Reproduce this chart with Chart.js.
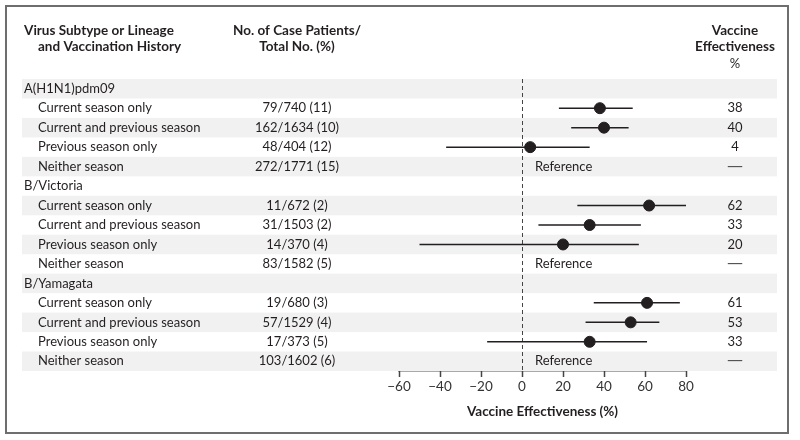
<!DOCTYPE html>
<html>
<head>
<meta charset="utf-8">
<script src="https://cdn.jsdelivr.net/npm/chart.js@4.4.1/dist/chart.umd.min.js"></script>
<style>
  body { margin: 0; background: #fff; }
</style>
</head>
<body>
<canvas id="forest" width="800" height="440"></canvas>
<script>
// --- data ---
const groups = ['A(H1N1)pdm09', 'B/Victoria', 'B/Yamagata'];
const histories = ['Current season only', 'Current and previous season', 'Previous season only', 'Neither season'];
const caseCounts = [
    ['79/740 (11)', '162/1634 (10)', '48/404 (12)', '272/1771 (15)'],
    ['11/672 (2)', '31/1503 (2)', '14/370 (4)', '83/1582 (5)'],
    ['19/680 (3)', '57/1529 (4)', '17/373 (5)', '103/1602 (6)']
];
const effectiveness = [[38, 40, 4, null], [62, 33, 20, null], [61, 53, 33, null]];
const ciLow = [[18, 24, -37, null], [27, 8, -50, null], [35, 31, -17, null]];
const ciHigh = [[54, 52, 33, null], [80, 58, 57, null], [77, 67, 61, null]];
const xTicks = [-60, -40, -20, 0, 20, 40, 60, 80];

const FONT = 'Lato, "Open Sans", sans-serif';
const INK = '#231f20';

// flatten into rows (group header row + 4 history rows)
const rows = [];
groups.forEach((g, gi) => {
    rows.push({ label: g, group: true });
    histories.forEach((h, hi) => {
        rows.push({
            label: h, group: false,
            cases: caseCounts[gi][hi],
            ve: effectiveness[gi][hi],
            lo: ciLow[gi][hi],
            hi: ciHigh[gi][hi]
        });
    });
});

const pointData = [];
const ciData = [];
rows.forEach((r, i) => {
    if (r.ve === null || r.ve === undefined) return;
    pointData.push({ x: r.ve, y: i });
    ciData.push({ x: r.lo, y: i }, { x: r.hi, y: i }, { x: null, y: null });
});

const tablePlugin = {
    id: 'tablePlugin',
    beforeDatasetsDraw(chart) {
        const { ctx, chartArea, scales: { x, y } } = chart;
        ctx.save();
        // zebra bands
        const h = Math.abs(y.getPixelForValue(1) - y.getPixelForValue(0));
        ctx.fillStyle = '#f1f1f1';
        rows.forEach((r, i) => {
            if (i % 2 !== 0) return;
            const cy = y.getPixelForValue(i);
            ctx.fillRect(22, cy - h / 2, 755, h);
        });
        // null line
        ctx.strokeStyle = '#444';
        ctx.lineWidth = 1;
        ctx.setLineDash([4, 3]);
        const x0 = Math.round(x.getPixelForValue(0)) + 0.5;
        ctx.beginPath();
        ctx.moveTo(x0, chartArea.top);
        ctx.lineTo(x0, chartArea.bottom);
        ctx.stroke();
        ctx.restore();
    },
    afterDraw(chart) {
        const { ctx, chartArea, scales: { x, y } } = chart;
        ctx.save();
        // frame
        ctx.strokeStyle = '#6e6e6e';
        ctx.lineWidth = 2;
        ctx.strokeRect(6, 6, 782, 427);

        // axis tick marks (downward)
        ctx.strokeStyle = '#444';
        ctx.lineWidth = 1.5;
        x.ticks.forEach(t => {
            const px = Math.round(x.getPixelForValue(t.value)) + 0.5;
            ctx.beginPath();
            ctx.moveTo(px, chartArea.bottom);
            ctx.lineTo(px, chartArea.bottom + 6);
            ctx.stroke();
        });

        ctx.fillStyle = INK;
        ctx.textBaseline = 'middle';
        // headers
        ctx.font = 'bold 13.5px ' + FONT;
        ctx.textAlign = 'left';
        ctx.fillText('Virus Subtype or Lineage', 24, 31);
        ctx.fillText('and Vaccination History', 38, 47);
        ctx.textAlign = 'center';
        ctx.fillText('No. of Case Patients/', 297, 31);
        ctx.fillText('Total No. (%)', 297, 47);
        ctx.fillText('Vaccine', 735, 31);
        ctx.fillText('Effectiveness', 735, 47);
        ctx.font = '13px ' + FONT;
        ctx.fillText('%', 735, 64);

        // rows
        rows.forEach((r, i) => {
            const cy = y.getPixelForValue(i);
            ctx.fillStyle = INK;
            ctx.font = '13px ' + FONT;
            if (r.group) {
                ctx.textAlign = 'left';
                ctx.fillText(r.label, 24, cy);
                return;
            }
            ctx.textAlign = 'left';
            ctx.fillText(r.label, 38, cy);
            ctx.textAlign = 'center';
            ctx.fillText(r.cases, 297, cy);
            if (r.ve === null) {
                ctx.textAlign = 'left';
                ctx.fillText('Reference', x.getPixelForValue(0) + 13, cy);
                ctx.textAlign = 'center';
                ctx.fillStyle = '#555';
                ctx.font = '16px "DejaVu Sans", sans-serif';
                ctx.fillText('\u2014', 735, cy);
            } else {
                ctx.fillText(String(r.ve), 735, cy);
            }
        });
        ctx.restore();
    }
};

new Chart(document.getElementById('forest'), {
    type: 'scatter',
    data: {
        datasets: [
            {
                type: 'line',
                data: ciData,
                borderColor: INK,
                borderWidth: 1.5,
                pointRadius: 0,
                spanGaps: false,
                fill: false
            },
            {
                data: pointData,
                backgroundColor: INK,
                borderColor: INK,
                pointRadius: 5.5,
                pointHoverRadius: 5.5
            }
        ]
    },
    options: {
        responsive: false,
        animation: false,
        layout: { padding: { left: 399, right: 114, top: 79, bottom: 0 } },
        plugins: { legend: { display: false }, tooltip: { enabled: false } },
        scales: {
            x: {
                type: 'linear',
                min: -60,
                max: 80,
                afterBuildTicks: (s) => { s.ticks = xTicks.map(v => ({ value: v })); },
                afterFit: (s) => { s.height = 69; },
                grid: { display: false, drawTicks: true, tickLength: 5 },
                border: { display: true, color: '#555', width: 1.5 },
                ticks: {
                    color: '#333',
                    padding: 3,
                    font: { family: FONT, size: 13.5 },
                    callback: (v) => (v < 0 ? '\u2212' + Math.abs(v) : String(v))
                },
                title: {
                    display: true,
                    text: 'Vaccine Effectiveness (%)',
                    color: INK,
                    font: { family: FONT, size: 13.5, weight: 'bold' },
                    padding: { top: 0, bottom: 20 }
                }
            },
            y: {
                type: 'linear',
                display: false,
                reverse: true,
                min: -0.5,
                max: 14.5
            }
        }
    },
    plugins: [tablePlugin]
});
</script>
</body>
</html>
